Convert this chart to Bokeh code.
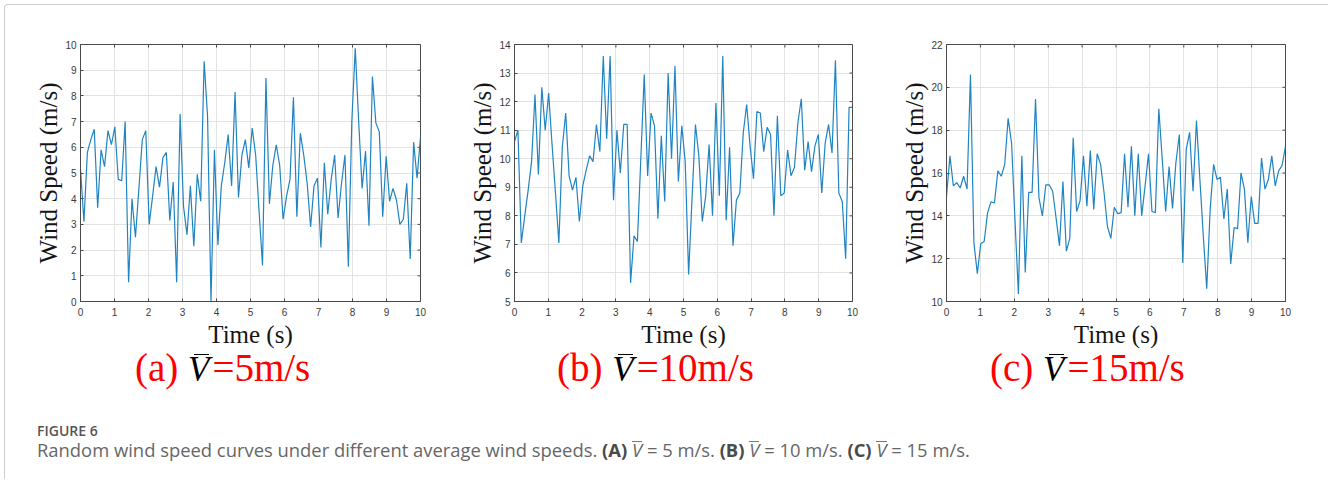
import numpy as np
from bokeh.plotting import figure
from bokeh.models import Range1d, FixedTicker, Div
from bokeh.layouts import row, column
from bokeh.embed import file_html
from bokeh.resources import INLINE

# ---------------- data ----------------
# 100 samples over 0..10 s
time_s = np.linspace(0, 10, 100)

speed_a = [5.15, 3.1, 5.8, 6.3, 6.7, 3.65, 5.9, 5.25, 6.65, 6.1,
           6.8, 4.75, 4.7, 7.0, 0.75, 4.0, 2.5, 4.4, 6.3, 6.65,
           3.0, 4.1, 5.25, 4.45, 5.6, 5.8, 3.15, 4.65, 0.75, 7.3,
           3.7, 2.6, 4.5, 2.15, 4.95, 3.9, 9.35, 7.2, 0.0, 5.9,
           2.2, 4.5, 5.4, 6.5, 4.5, 8.15, 4.05, 5.7, 6.3, 5.2,
           6.75, 5.7, 3.5, 1.4, 8.7, 3.8, 5.3, 6.1, 5.3, 3.2,
           4.1, 4.75, 7.95, 3.3, 6.55, 5.7, 4.6, 2.9, 4.5, 4.8,
           2.1, 5.4, 3.4, 4.75, 5.7, 3.25, 4.6, 5.7, 1.35, 7.0,
           9.85, 7.0, 4.4, 5.85, 2.95, 8.75, 6.95, 6.6, 3.3, 5.65,
           3.9, 4.4, 3.95, 3.0, 3.2, 4.6, 1.65, 6.2, 4.8, 6.4]

speed_b = [10.6, 11.0, 7.05, 8.0, 8.9, 9.9, 12.25, 9.45, 12.5, 11.0,
           12.3, 10.5, 8.8, 7.05, 10.4, 11.6, 9.4, 8.9, 9.35, 7.8,
           9.05, 9.6, 10.1, 9.9, 11.2, 10.25, 13.6, 10.7, 13.6, 8.55,
           11.0, 9.5, 11.2, 11.2, 5.65, 7.3, 7.1, 10.0, 12.95, 9.4,
           11.6, 11.15, 7.9, 10.8, 8.5, 13.0, 10.0, 13.25, 9.2, 11.15,
           9.9, 5.95, 8.6, 11.2, 10.1, 7.8, 8.7, 10.5, 8.0, 11.95,
           8.7, 13.6, 7.85, 10.4, 6.95, 8.55, 8.8, 10.9, 11.9, 10.45,
           9.3, 11.65, 11.6, 10.25, 11.1, 10.85, 8.0, 11.5, 8.7, 8.8,
           10.3, 9.4, 9.7, 11.25, 12.1, 9.6, 10.6, 9.55, 10.45, 10.85,
           8.8, 10.55, 11.2, 10.2, 13.45, 8.8, 8.5, 6.5, 11.8, 11.8]

speed_c = [14.9, 16.8, 15.4, 15.55, 15.3, 15.85, 15.25, 20.6, 12.75, 11.3,
           12.7, 12.8, 14.15, 14.65, 14.6, 16.1, 15.85, 16.4, 18.55, 17.4,
           13.8, 10.35, 16.8, 11.35, 15.1, 15.1, 19.45, 14.85, 14.0, 15.45,
           15.45, 15.15, 13.9, 12.6, 15.6, 12.35, 12.95, 17.65, 14.2, 14.7,
           16.8, 14.45, 17.05, 14.3, 16.9, 16.4, 15.1, 13.5, 12.95, 14.4,
           14.1, 14.15, 16.9, 14.4, 17.25, 14.0, 16.9, 14.0, 15.4, 16.9,
           14.2, 14.15, 19.0, 16.65, 14.2, 16.3, 14.35, 16.5, 17.8, 11.8,
           17.1, 17.9, 15.15, 18.45, 15.7, 13.05, 10.6, 14.3, 16.4, 15.7,
           15.8, 13.85, 15.25, 11.75, 13.45, 13.4, 16.0, 15.25, 12.75, 14.9,
           13.65, 13.65, 16.7, 15.25, 15.7, 16.8, 15.4, 16.1, 16.35, 17.25]

x_ticks = [0, 1, 2, 3, 4, 5, 6, 7, 8, 9, 10]
y_ticks_a = [0, 1, 2, 3, 4, 5, 6, 7, 8, 9, 10]
y_ticks_b = [5, 6, 7, 8, 9, 10, 11, 12, 13, 14]
y_ticks_c = [10, 12, 14, 16, 18, 20, 22]

x_label = "Time (s)"
y_label = "Wind Speed (m/s)"
panel_letters = ["a", "b", "c"]
panel_means = ["5", "10", "15"]

# ---------------- styling ----------------
FRAME = "#4a4a4a"
GRID = "#e3e3e3"
LINE = "#1f84c2"
TOP, FH, BOTTOM = 36, 257, 50


def panel(speeds, y0, y1, yticks, left, fw, right):
    p = figure(width=left + fw + right, height=TOP + FH + BOTTOM,
               x_range=Range1d(0, 10), y_range=Range1d(y0, y1),
               output_backend="svg", toolbar_location=None,
               min_border_left=left, min_border_right=right,
               min_border_top=TOP, min_border_bottom=BOTTOM)
    p.outline_line_color = FRAME
    p.outline_line_width = 1
    p.border_fill_color = "white"
    p.background_fill_color = "white"

    xt = FixedTicker(ticks=x_ticks)
    yt = FixedTicker(ticks=yticks)

    xa = p.xaxis[0]
    ya = p.yaxis[0]
    xa.ticker = xt
    ya.ticker = yt
    p.xgrid.ticker = xt
    p.ygrid.ticker = yt
    p.xgrid.grid_line_color = GRID
    p.ygrid.grid_line_color = GRID

    for ax in (xa, ya):
        ax.axis_line_color = FRAME
        ax.major_tick_line_color = FRAME
        ax.major_tick_in = 3
        ax.major_tick_out = 0
        ax.minor_tick_line_color = None
        ax.major_label_text_font = "Liberation Sans"
        ax.major_label_text_font_size = "10px"
        ax.major_label_text_color = "#3a3a3a"
        ax.axis_label_text_font = "Liberation Serif"
        ax.axis_label_text_font_size = "25px"
        ax.axis_label_text_font_style = "normal"
        ax.axis_label_text_color = "#151515"
    xa.axis_label = x_label
    ya.axis_label = y_label
    xa.major_label_standoff = 6
    xa.axis_label_standoff = 2
    ya.major_label_standoff = 4
    ya.axis_label_standoff = 0

    # inward tick marks on the top and right edges of the box
    p.scatter(x=x_ticks, y=[y1] * len(x_ticks), marker="dash", angle=np.pi / 2,
              size=6, line_color=FRAME, line_width=1)
    p.scatter(x=[10] * len(yticks), y=yticks, marker="dash",
              size=6, line_color=FRAME, line_width=1)

    p.line(time_s, speeds, line_color=LINE, line_width=1.2)
    return p


pa = panel(speed_a, 0, 10, y_ticks_a, 72, 340, 10)
pb = panel(speed_b, 5, 14, y_ticks_b, 84, 338, 10)
pc = panel(speed_c, 10, 22, y_ticks_c, 84, 339, 35)

# ---------------- captions ----------------
VBAR_BIG = ('<span style="position:relative; display:inline-block; color:#000; font-style:italic; '
            'font-size:35px; line-height:30px; margin-right:3px;">V'
            '<span style="position:absolute; left:28%; right:4%; top:-1px; '
            'border-top:1.5px solid #000;"></span></span>')


def red_caption(letter, mean, left):
    return ('<div style="position:absolute; left:%dpx; top:-3px; white-space:nowrap; '
            'font-family:\'Liberation Serif\'; font-size:39px; line-height:30px; color:#ff0000;">'
            '(%s) %s=%sm/s</div>' % (left, letter, VBAR_BIG, mean))


VBAR_SMALL = ('<span style="display:inline-block; font-style:italic; '
              'border-top:1px solid #777; line-height:15px;">V</span>')

caption_line = ('Random wind speed curves under different average wind speeds. '
                '<b style="color:#4a4a4a">(A)</b> %s = 5 m/s. '
                '<b style="color:#4a4a4a">(B)</b> %s = 10 m/s. '
                '<b style="color:#4a4a4a">(C)</b> %s = 15 m/s.' % (VBAR_SMALL, VBAR_SMALL, VBAR_SMALL))

html = ('<div style="position:relative; width:1312px; height:118px;">'
        + red_caption(panel_letters[0], panel_means[0], 122)
        + red_caption(panel_letters[1], panel_means[1], 544)
        + red_caption(panel_letters[2], panel_means[2], 977)
        + '<div style="position:absolute; left:24px; top:68px; white-space:nowrap; '
          'font-family:\'Open Sans\'; font-weight:600; font-size:14px; line-height:14px; color:#555;">FIGURE 6</div>'
        + '<div style="position:absolute; left:24px; top:85px; white-space:nowrap; '
          'font-family:\'Open Sans\'; font-size:18.4px; line-height:18.4px; color:#666;">'
        + caption_line + '</div>'
        + '</div>')

cap_div = Div(text=html, width=1312, height=118)

layout = column(row(pa, pb, pc), cap_div,
                styles={"border": "1px solid #cfcfcf", "border-bottom": "none",
                        "border-radius": "4px 4px 0 0", "margin": "4px 0 0 4px",
                        "padding": "3px 3px 0 3px"})

open("out.html", "w").write(file_html(layout, INLINE))
